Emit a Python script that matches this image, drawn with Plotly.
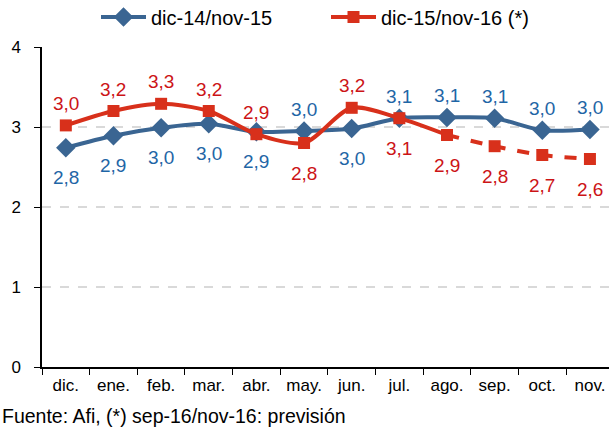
import plotly.graph_objects as go

months = ["dic.", "ene.", "feb.", "mar.", "abr.", "may.", "jun.", "jul.", "ago.", "sep.", "oct.", "nov."]
serie_a_name = "dic-14/nov-15"
serie_a = [2.74, 2.89, 2.99, 3.04, 2.94, 2.95, 2.98, 3.11, 3.12, 3.11, 2.96, 2.97]
serie_a_labels = ["2,8", "2,9", "3,0", "3,0", "2,9", "3,0", "3,0", "3,1", "3,1", "3,1", "3,0", "3,0"]
serie_a_pos = ["b", "b", "b", "b", "b", "t", "b", "t", "t", "t", "t", "t"]

serie_b_name = "dic-15/nov-16 (*)"
serie_b = [3.02, 3.20, 3.29, 3.20, 2.91, 2.80, 3.24, 3.11, 2.90, 2.76, 2.65, 2.60]
serie_b_labels = ["3,0", "3,2", "3,3", "3,2", "2,9", "2,8", "3,2", "3,1", "2,9", "2,8", "2,7", "2,6"]
serie_b_pos = ["t", "t", "t", "t", "t", "b", "t", "b", "b", "b", "b", "b"]
forecast_start = 8  # index of "ago." where the forecast (dashed) begins

footer = "Fuente: Afi, (*) sep-16/nov-16: previsión"

BLUE_LINE = "#3A6592"
BLUE_TXT = "#1F66A6"
RED_LINE = "#D8301B"
RED_TXT = "#CC1416"
FONT = "Liberation Sans"

fig = go.Figure()
fig.add_trace(go.Scatter(
    x=months, y=serie_a, name=serie_a_name, mode="lines+markers",
    line=dict(color=BLUE_LINE, width=4, shape="spline", smoothing=0.8),
    marker=dict(symbol="diamond", size=15, color=BLUE_LINE),
))
fig.add_trace(go.Scatter(
    x=months[:forecast_start + 1], y=serie_b[:forecast_start + 1], name=serie_b_name,
    mode="lines+markers",
    line=dict(color=RED_LINE, width=4, shape="spline", smoothing=0.8),
    marker=dict(symbol="square", size=12, color=RED_LINE),
))
fig.add_trace(go.Scatter(
    x=months[forecast_start:], y=serie_b[forecast_start:], name=serie_b_name,
    mode="lines+markers", showlegend=False,
    line=dict(color=RED_LINE, width=4, dash="dash", shape="spline", smoothing=0.8),
    marker=dict(symbol="square", size=12, color=RED_LINE),
))

annotations = []
for vals, labs, pos, col in [(serie_a, serie_a_labels, serie_a_pos, BLUE_TXT),
                             (serie_b, serie_b_labels, serie_b_pos, RED_TXT)]:
    for m, v, l, p in zip(months, vals, labs, pos):
        annotations.append(dict(
            x=m, y=v, xref="x", yref="y", text=l, showarrow=False,
            font=dict(size=19, color=col, family=FONT),
            yshift=22 if p == "t" else -30, xanchor="center", yanchor="middle",
        ))
annotations.append(dict(
    xref="paper", x=-42 / 567, yref="paper", y=-49 / 320, text=footer, showarrow=False,
    xanchor="left", yanchor="middle", font=dict(size=19.5, color="#000000", family=FONT),
))

fig.update_layout(
    width=609, height=427,
    margin=dict(l=42, r=0, t=47, b=60, autoexpand=False),
    paper_bgcolor="white", plot_bgcolor="white",
    font=dict(family=FONT, size=17, color="#000000"),
    showlegend=True,
    legend=dict(orientation="h", xref="container", yref="container",
                x=96 / 609, xanchor="left", y=1 - 17 / 427, yanchor="middle",
                itemwidth=45, entrywidth=170, font=dict(size=20), bgcolor="rgba(0,0,0,0)"),
    annotations=annotations,
    xaxis=dict(
        type="category", categoryorder="array", categoryarray=months, automargin=False,
        range=[-0.5, 11.4], showgrid=False, showline=True, linecolor="#000000", linewidth=1.5,
        ticks="outside", tickson="boundaries", ticklen=6, tickcolor="#000000",
        tickfont=dict(size=17), zeroline=False, ticklabelstandoff=2,
    ),
    yaxis=dict(
        range=[0, 4], tickvals=[0, 1, 2, 3, 4], showgrid=True, gridcolor="#D9D9D9",
        griddash="dash", gridwidth=1.5, showline=True, linecolor="#000000", linewidth=1.5,
        ticks="outside", ticklen=6, tickcolor="#000000", tickfont=dict(size=17),
        zeroline=False, automargin=False, ticklabelstandoff=10,
    ),
)

fig.write_html("out.html", config={"displayModeBar": False},
               post_script="document.body.style.margin='0';")
